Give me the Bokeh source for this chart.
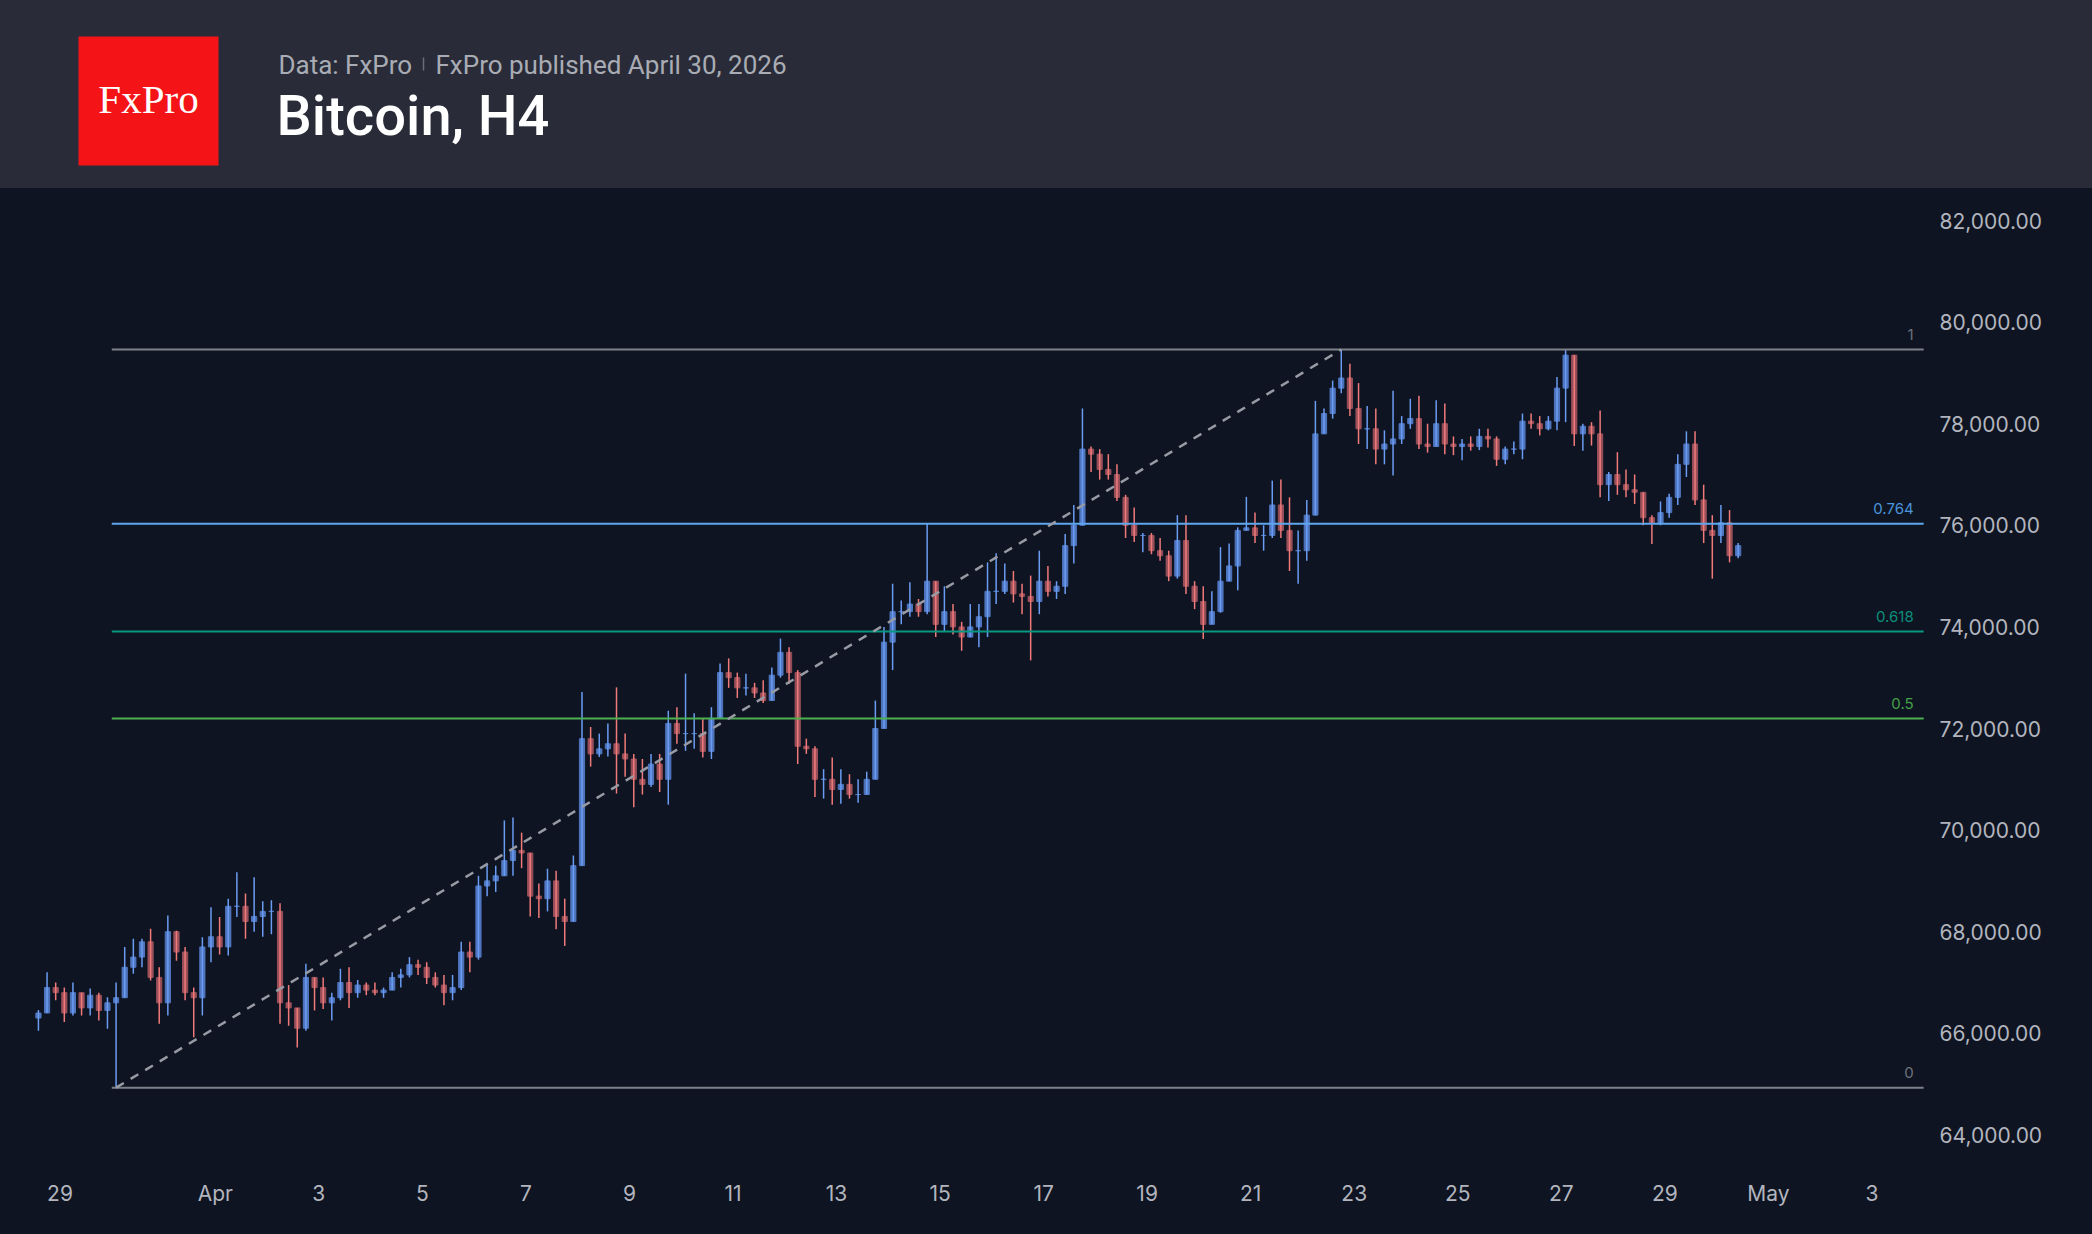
import pandas as pd
from bokeh.plotting import figure
from bokeh.layouts import column
from bokeh.models import ColumnDataSource, Range1d, FixedTicker, NumeralTickFormatter
from bokeh.core.properties import value
from bokeh.embed import file_html
from bokeh.resources import INLINE

# ---------------- data (BTC, 4h bars) ----------------
FIRST_BAR = "2026-03-28 12:00"
FIRST_OPEN = 66300

CLOSE = [
    66400, 66900, 66800,                          # Mar 28 (12h-20h)
    66400, 66800, 66500, 66750, 66450, 66600,     # Mar 29
    66700, 67300, 67500, 67800, 67100, 66600,     # Mar 30
    68000, 67600, 66800, 66700, 67700, 67900,     # Mar 31
    67700, 68500, 68500, 68200, 68300, 68400,     # Apr 1
    68400, 66600, 66500, 66100, 67100, 66900,     # Apr 2
    66600, 66700, 67000, 66800, 66950, 66850,     # Apr 3
    66800, 66850, 67100, 67150, 67350, 67300,     # Apr 4
    67100, 66950, 66800, 66900, 67600, 67500,     # Apr 5
    68900, 69000, 69100, 69400, 69600, 69550,     # Apr 6
    68700, 68650, 69000, 68300, 68200, 69300,     # Apr 7
    71800, 71500, 71600, 71700, 71500, 71400,     # Apr 8
    71000, 70900, 71300, 71000, 72100, 71900,     # Apr 9
    71900, 71900, 71550, 72200, 73100, 73000,     # Apr 10
    72800, 72800, 72700, 72550, 73050, 73500,     # Apr 11
    73100, 71650, 71600, 71000, 71000, 70800,     # Apr 12
    70900, 70700, 70700, 71000, 72000, 73700,     # Apr 13
    74300, 74300, 74450, 74300, 74900, 74050,     # Apr 14
    74300, 74000, 73800, 74000, 74200, 74700,     # Apr 15
    74700, 74900, 74650, 74600, 74500, 74900,     # Apr 16
    74700, 74800, 75600, 76000, 77500, 77400,     # Apr 17
    77100, 77000, 76550, 76000, 75800, 75800,     # Apr 18
    75500, 75400, 75000, 75700, 74800, 74500,     # Apr 19
    74050, 74300, 74900, 75200, 75900, 75950,     # Apr 20
    75800, 75800, 76400, 75900, 75500, 75500,     # Apr 21
    76200, 77800, 78200, 78700, 78900, 78300,     # Apr 22
    77900, 77900, 77500, 77600, 77700, 78000,     # Apr 23
    78100, 77600, 77550, 78000, 77600, 77550,     # Apr 24
    77600, 77550, 77750, 77700, 77300, 77500,     # Apr 25
    77500, 78050, 78000, 77900, 78050, 78700,     # Apr 26
    79350, 77800, 77950, 77800, 76800, 77000,     # Apr 27
    76800, 76700, 76650, 76150, 76050, 76250,     # Apr 28
    76550, 77200, 77600, 76500, 75900, 75800,     # Apr 29
    76050, 75400, 75600,                          # Apr 30 (0h-8h)
]

HIGH = [
    66460, 67200, 67000,
    66900, 67000, 66800, 66880, 66800, 66710,
    67000, 67700, 67860, 67860, 68060, 67300,
    68320, 68020, 67700, 66900, 67890, 68480,
    68290, 68650, 69170, 68750, 69070, 68600,
    68620, 68560, 66950, 66500, 67370, 67100,
    67100, 66800, 67270, 67300, 67050, 67000,
    67000, 66900, 67200, 67270, 67500, 67450,
    67400, 67200, 67150, 67150, 67800, 67800,
    69100, 69340, 69300, 70190, 70250, 69950,
    69550, 68950, 69240, 69200, 68650, 69500,
    72720, 72030, 71900, 72100, 72810, 71900,
    71500, 71400, 71500, 71500, 72350, 72420,
    73080, 72300, 72200, 72420, 73280, 73380,
    73100, 73080, 72900, 72950, 73200, 73770,
    73600, 73150, 71800, 71650, 71200, 71430,
    71200, 71100, 71000, 71150, 72550, 74000,
    74850, 74520, 74880, 74550, 76030, 74600,
    74800, 74450, 74100, 74450, 74450, 75270,
    75450, 75250, 75100, 74850, 75010, 75500,
    75200, 74900, 75830, 76400, 78300, 77550,
    77500, 77400, 77200, 76600, 76350, 75850,
    75850, 75750, 75500, 76200, 76200, 74900,
    74800, 74700, 75570, 75640, 75960, 76560,
    76250, 76000, 76880, 76900, 76550, 75900,
    76500, 78450, 78300, 78850, 79460, 79180,
    78800, 78350, 78300, 77870, 78650, 78150,
    78490, 78550, 78000, 78460, 78400, 77750,
    77700, 77750, 77900, 77900, 77750, 77550,
    77650, 78200, 78200, 78150, 78150, 78920,
    79460, 79320, 78000, 78030, 78260, 77050,
    77440, 77100, 77000, 76650, 76200, 76470,
    76620, 77400, 77850, 77850, 76800, 76200,
    76400, 76300, 75650,
]

LOW = [
    66050, 66450, 66650,
    66220, 66350, 66350, 66350, 66250, 66090,
    64930, 66900, 67170, 67300, 67040, 66190,
    66350, 67430, 66650, 65920, 66350, 67400,
    67550, 67530, 68290, 67860, 68000, 67900,
    67950, 66190, 66150, 65720, 66050, 66450,
    66480, 66250, 66650, 66500, 66700, 66750,
    66750, 66700, 66850, 66900, 67100, 67150,
    66970, 66900, 66550, 66650, 66850, 67200,
    67450, 68700, 68780, 69100, 69100, 69250,
    68300, 68270, 68400, 68050, 67720, 68200,
    69300, 71250, 71440, 71450, 70720, 71050,
    70450, 70700, 70850, 70750, 70500, 71700,
    71560, 71600, 71430, 71400, 72200, 72800,
    72600, 72650, 72600, 72500, 72550, 73000,
    72880, 71300, 71500, 70650, 70620, 70500,
    70520, 70620, 70540, 70700, 71400, 72000,
    73150, 74050, 74200, 74200, 74250, 73800,
    73900, 73850, 73530, 73800, 73600, 73800,
    74450, 74650, 74480, 74250, 73340, 74250,
    74600, 74550, 74650, 75250, 76000, 77050,
    76900, 76900, 76480, 75750, 75670, 75470,
    75430, 75300, 74900, 74950, 74650, 74350,
    73760, 74100, 74280, 74900, 74720, 75900,
    75650, 75500, 75750, 75750, 75100, 74850,
    75300, 76200, 77850, 78100, 78600, 78150,
    77600, 77500, 77200, 77200, 76980, 77600,
    77900, 77500, 77430, 77550, 77400, 77380,
    77280, 77470, 77480, 77530, 77170, 77200,
    77400, 77300, 77900, 77770, 77870, 77870,
    78030, 77560, 77470, 77570, 76550, 76480,
    76600, 76550, 76420, 76000, 75630, 76000,
    76150, 76400, 76950, 76400, 75650, 74950,
    75650, 75270, 75350,
]

# Fibonacci retracement drawn on the chart
FIB_LOW = 64930
FIB_HIGH = 79460
FIB_LOW_TIME = "2026-03-30 02:00"
FIB_HIGH_TIME = "2026-04-22 18:00"
FIB_END_TIME = "2026-05-04 00:00"
FIB_LEVELS = [0, 0.5, 0.618, 0.764, 1]
FIB_LABELS = ["0", "0.5", "0.618", "0.764", "1"]
FIB_LINE_COLORS = ["#7d808a", "#4caf50", "#0a9782", "#5ea7ee", "#7d808a"]
FIB_TEXT_COLORS = ["#6f727c", "#43a047", "#0a8f7c", "#4a95dc", "#6f727c"]

Y_TICKS = [64000, 66000, 68000, 70000, 72000, 74000, 76000, 78000, 80000, 82000]
X_TICK_DATES = ["2026-03-29", "2026-04-01", "2026-04-03", "2026-04-05", "2026-04-07",
                "2026-04-09", "2026-04-11", "2026-04-13", "2026-04-15", "2026-04-17",
                "2026-04-19", "2026-04-21", "2026-04-23", "2026-04-25", "2026-04-27",
                "2026-04-29", "2026-05-01", "2026-05-03"]
X_TICK_LABELS = ["29", "Apr", "3", "5", "7", "9", "11", "13", "15", "17", "19", "21",
                 "23", "25", "27", "29", "May", "3"]

TITLE = "Bitcoin, H4"
SOURCE = "Data: FxPro"
PUBLISHED = "FxPro published April 30, 2026"
LOGO = "FxPro"

# ---------------- styles ----------------
HDR_BG = "#292c38"
BG = "#0e1421"
AXIS_TEXT = "#b2b5be"
UP_BODY, UP_WICK = "#4f76bf", "#6b9cf3"
DN_BODY, DN_WICK = "#9a505a", "#f07a7a"
W, HDR_H, MAIN_H = 2092, 188, 1046
FRAME_RIGHT = 1928          # px: right edge of the price pane
RIGHT_BORDER = W - FRAME_RIGHT
FRAME_H = 972               # px: height of the price pane


def ms(s):
    return pd.Timestamp(s).value // 10**6


# ---------------- candles ----------------
n = len(CLOSE)
starts = pd.date_range(FIRST_BAR, periods=n, freq="4h")
centers = (starts + pd.Timedelta(hours=2)).asi8 // 10**6
OPEN = [FIRST_OPEN] + CLOSE[:-1]
hi = [max(h, o, c) for h, o, c in zip(HIGH, OPEN, CLOSE)]
lo = [min(l, o, c) for l, o, c in zip(LOW, OPEN, CLOSE)]
up = [c >= o for o, c in zip(OPEN, CLOSE)]
src = ColumnDataSource(dict(
    x=centers, high=hi, low=lo,
    top=[max(o, c) for o, c in zip(OPEN, CLOSE)],
    bottom=[min(o, c) for o, c in zip(OPEN, CLOSE)],
    body=[UP_BODY if u else DN_BODY for u in up],
    wick=[UP_WICK if u else DN_WICK for u in up],
))

# ---------------- header ----------------
hdr = figure(width=W, height=HDR_H, x_range=Range1d(0, FRAME_RIGHT), y_range=Range1d(HDR_H, 0),
             output_backend="svg", toolbar_location=None, x_axis_location=None,
             y_axis_location=None, min_border_left=0, min_border_top=0, min_border_bottom=0,
             min_border_right=RIGHT_BORDER, outline_line_color=None,
             background_fill_color=None, border_fill_color=None, title=None,
             styles={"background-color": HDR_BG})
hdr.grid.visible = False
hdr.quad(left=[78], right=[218], top=[36], bottom=[165], fill_color="#f41418", line_color=None)
hdr.text(x=[148], y=[98], text=[LOGO], text_font=value("Liberation Serif"),
         text_font_size="41px", text_color="#ffffff", text_align="center",
         text_baseline="middle")
hdr.text(x=[278], y=[64], text=[SOURCE], text_font=value("Roboto"), text_font_size="26px",
         text_color="#a9acb5", text_baseline="middle")
hdr.segment(x0=[423], y0=[57], x1=[423], y1=[70], line_color="#6b6e78", line_width=1.5)
hdr.text(x=[435], y=[64], text=[PUBLISHED], text_font=value("Roboto"), text_font_size="26px",
         text_color="#a9acb5", text_baseline="middle")
hdr.text(x=[276], y=[115], text=[TITLE], text_font=value("Roboto Medium, Roboto"),
         text_font_size="56px", text_color="#ffffff", text_baseline="middle")

# ---------------- main chart ----------------
# pane: x 0..1928 px, y 188..1160 px of the page
x_start = ms("2026-03-27 20:25")
x_end = ms("2026-05-04 02:14")
p = figure(width=W, height=MAIN_H, x_axis_type="datetime",
           x_range=Range1d(x_start, x_end), y_range=Range1d(63496, 82630),
           output_backend="svg", toolbar_location=None, y_axis_location="right", title=None,
           min_border_left=0, min_border_top=0, min_border_right=RIGHT_BORDER,
           min_border_bottom=MAIN_H - FRAME_H, background_fill_color=None,
           border_fill_color=None, outline_line_color=None, styles={"background-color": BG})
p.grid.visible = False

for ax in (p.xaxis[0], p.yaxis[0]):
    ax.axis_line_color = None
    ax.major_tick_line_color = None
    ax.minor_tick_line_color = None
    ax.major_tick_out = 0
    ax.major_tick_in = 0
    ax.minor_tick_out = 0
    ax.major_label_text_color = AXIS_TEXT
    ax.major_label_text_font = "Inter"
    ax.major_label_text_font_size = "21px"

p.yaxis[0].ticker = FixedTicker(ticks=Y_TICKS)
p.yaxis[0].formatter = NumeralTickFormatter(format="0,0.00")
p.yaxis[0].major_label_standoff = 11

x_tick_ms = [float(ms(d)) for d in X_TICK_DATES]
p.xaxis[0].ticker = FixedTicker(ticks=x_tick_ms, minor_ticks=[])
p.xaxis[0].major_label_overrides = {t: lab for t, lab in zip(x_tick_ms, X_TICK_LABELS)}
p.xaxis[0].major_label_standoff = 20

BODY_MS = 0.6 * 4 * 3600 * 1000
p.vbar(x="x", width=BODY_MS, top="top", bottom="bottom", fill_color="body",
       line_color="body", line_width=1, source=src)
p.segment(x0="x", y0="low", x1="x", y1="high", line_color="wick", line_width=1.5, source=src)

fib_prices = [FIB_LOW + lv * (FIB_HIGH - FIB_LOW) for lv in FIB_LEVELS]
fib_src = ColumnDataSource(dict(
    x0=[ms(FIB_LOW_TIME) - 2 * 3600 * 1000] * len(FIB_LEVELS),
    x1=[ms(FIB_END_TIME)] * len(FIB_LEVELS),
    y=fib_prices, color=FIB_LINE_COLORS, tcolor=FIB_TEXT_COLORS, label=FIB_LABELS,
))
p.segment(x0="x0", y0="y", x1="x1", y1="y", line_color="color", line_width=2, source=fib_src)
p.segment(x0=[ms(FIB_LOW_TIME)], y0=[FIB_LOW], x1=[ms(FIB_HIGH_TIME)], y1=[FIB_HIGH],
          line_color="#989ba4", line_width=2.5, line_dash="9 8")
p.text(x="x1", y="y", text="label", text_color="tcolor", text_align="right",
       text_baseline="middle", x_offset=-10, y_offset=-15, text_font=value("Inter"),
       text_font_size="15px", source=fib_src)

layout = column(hdr, p, spacing=0, styles={"background-color": BG})
open("out.html", "w").write(file_html(layout, INLINE))
